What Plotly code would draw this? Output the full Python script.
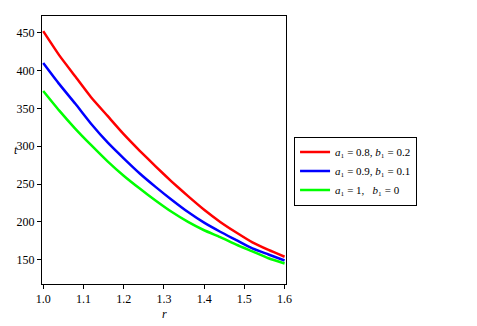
import plotly.graph_objects as go

r_vals = [1.00, 1.04, 1.08, 1.12, 1.16, 1.20, 1.24, 1.28, 1.32, 1.36, 1.40, 1.44, 1.48, 1.52, 1.56, 1.60]
t_red = [452, 420, 392, 364, 340, 316, 294, 273, 253, 234, 216, 200, 186, 173, 163, 154]
t_blue = [410, 382, 356, 329, 305, 284, 264, 246, 229, 213, 199, 187, 176, 165, 157, 149]
t_green = [373, 347, 323, 301, 280, 261, 244, 228, 213, 200, 189, 180, 170, 161, 152, 145]

names = [
    "<i>a</i>₁ = 0.8, <i>b</i>₁ = 0.2",
    "<i>a</i>₁ = 0.9, <i>b</i>₁ = 0.1",
    "<i>a</i>₁ = 1,   <i>b</i>₁ = 0",
]
colors = ["#ff0000", "#0000ff", "#00ff00"]
series = [t_red, t_blue, t_green]

x_ticks = [1.0, 1.1, 1.2, 1.3, 1.4, 1.5, 1.6]
x_labels = ["1.0", "1.1", "1.2", "1.3", "1.4", "1.5", "1.6"]
y_ticks = [150, 200, 250, 300, 350, 400, 450]

SERIF = "Times New Roman, Liberation Serif, serif"

fig = go.Figure()
for ys, nm, c in zip(series, names, colors):
    fig.add_trace(go.Scatter(x=r_vals, y=ys, mode="lines", name=nm,
                             line=dict(color=c, width=2.5, shape="spline", smoothing=0.5)))

fig.update_layout(
    width=477, height=326,
    margin=dict(l=42, r=191, t=16, b=42, autoexpand=False),
    paper_bgcolor="white", plot_bgcolor="white",
    font=dict(family=SERIF, size=12, color="#000"),
    showlegend=True,
    legend=dict(x=1.033, y=0.55, xanchor="left", yanchor="top",
                bordercolor="#000", borderwidth=1, bgcolor="white",
                font=dict(family=SERIF, size=11, color="#000"),
                tracegroupgap=0, itemwidth=30),
    annotations=[
        dict(text="<i>t</i>", xref="paper", yref="paper", x=-0.125, y=0.5,
             showarrow=False, font=dict(family=SERIF, size=12, color="#000")),
        dict(text="<i>r</i>", xref="paper", yref="paper", x=0.5, y=-0.08,
             yanchor="top", showarrow=False, font=dict(family=SERIF, size=12, color="#000")),
    ],
)
fig.update_xaxes(
    range=[0.997, 1.6035], tickvals=x_ticks, ticktext=x_labels, automargin=False,
    showgrid=False, zeroline=False, showline=True, linecolor="#000", linewidth=1,
    mirror=True, ticks="outside", ticklen=4, tickcolor="#000",
    tickfont=dict(family=SERIF, size=12, color="#000"),
)
fig.update_yaxes(
    range=[118, 472], tickvals=y_ticks, automargin=False,
    showgrid=False, zeroline=False, showline=True, linecolor="#000", linewidth=1,
    mirror=True, ticks="outside", ticklen=4, tickcolor="#000",
    tickfont=dict(family=SERIF, size=12, color="#000"),
)
fig.write_html("out.html", config={"displayModeBar": False},
               post_script="document.body.style.margin='0';")
